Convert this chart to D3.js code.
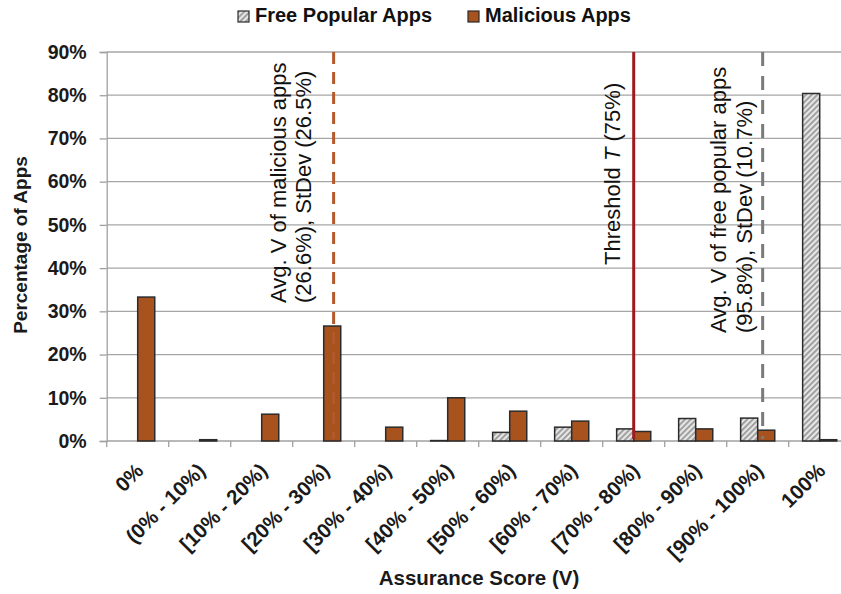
<!DOCTYPE html>
<html>
<head>
<meta charset="utf-8">
<script src="https://cdn.jsdelivr.net/npm/d3@7/dist/d3.min.js"></script>
<style>
  html, body { margin: 0; padding: 0; background: #fff; }
  svg { display: block; font-family: "Liberation Sans", Arial, sans-serif; }
</style>
</head>
<body>
<svg id="chart" width="841" height="594"></svg>
<script>
// ---- data ----
const categories = ["0%", "(0% - 10%)", "[10% - 20%)", "[20% - 30%)", "[30% - 40%)", "[40% - 50%)",
  "[50% - 60%)", "[60% - 70%)", "[70% - 80%)", "[80% - 90%)", "[90% - 100%)", "100%"];
const seriesNames = ["Free Popular Apps", "Malicious Apps"];
const freeValues = [0, 0, 0, 0, 0, 0.1, 2.0, 3.2, 2.8, 5.2, 5.3, 80.4];
const maliciousValues = [33.3, 0.3, 6.2, 26.6, 3.2, 10.0, 6.9, 4.6, 2.2, 2.8, 2.5, 0.3];
const yTicks = [0, 10, 20, 30, 40, 50, 60, 70, 80, 90];
// reference lines: value on the assurance score (V) axis, in %
const refLines = [
  { name: "malAvg", v: 26.6, lines: ["Avg. V of malicious apps", "(26.6%), StDev (26.5%)"] },
  { name: "threshold", v: 75, lines: ["Threshold T (75%)"] },
  { name: "freeAvg", v: 95.8, lines: ["Avg. V of free popular apps", "(95.8%), StDev (10.7%)"] }
];

const svg = d3.select("#chart");
const x0Left = 106.7, step = 62, yTop = 52, yBottom = 441;

const x = d3.scaleBand().domain(categories)
  .range([x0Left, x0Left + step * categories.length])
  .paddingInner(0.45).paddingOuter(0.225);
const xs = d3.scaleBand().domain(seriesNames).range([0, x.bandwidth()]).padding(0);
const y = d3.scaleLinear().domain([0, 90]).range([yBottom, yTop]);
// continuous V axis: value v% -> position (0% category occupies first step)
const vScale = d3.scaleLinear().domain([0, 100]).range([x0Left + step, x0Left + step * 11]);

// pattern
const defs = svg.append("defs");
const pat = defs.append("pattern").attr("id", "hatch").attr("patternUnits", "userSpaceOnUse")
  .attr("width", 4).attr("height", 4).attr("patternTransform", "rotate(45)");
pat.append("rect").attr("width", 4).attr("height", 4).attr("fill", "#e6e6e6");
pat.append("rect").attr("width", 1.8).attr("height", 4).attr("fill", "#9a9a9a");

const colors = { "Free Popular Apps": "url(#hatch)", "Malicious Apps": "#a8521e" };

// gridlines
svg.append("g").selectAll("line").data(yTicks.filter(d => d > 0)).join("line")
  .attr("x1", x0Left).attr("x2", 841)
  .attr("y1", d => y(d)).attr("y2", d => y(d))
  .attr("stroke", "#a6a6a6").attr("stroke-width", 1.3);

// y axis
const yAxis = svg.append("g").attr("transform", `translate(${x0Left},0)`)
  .call(d3.axisLeft(y).tickValues(yTicks).tickFormat(d => d + "%").tickSize(7).tickPadding(13));
yAxis.select(".domain").attr("stroke", "#a0a0a0").attr("stroke-width", 1.3);
yAxis.selectAll(".tick line").attr("stroke", "#a0a0a0").attr("stroke-width", 1.3);
yAxis.selectAll(".tick text").attr("font-size", 19.5).attr("font-weight", "bold")
  .attr("fill", "#1a1a1a").attr("font-family", "Liberation Sans, Arial, sans-serif");

// x axis line & boundary ticks
const boundaries = d3.range(categories.length + 1).map(i => x0Left + i * step);
svg.append("line").attr("x1", x0Left).attr("x2", 841).attr("y1", yBottom).attr("y2", yBottom)
  .attr("stroke", "#a0a0a0").attr("stroke-width", 1.3);
svg.append("g").selectAll("line").data(boundaries).join("line")
  .attr("x1", d => d).attr("x2", d => d).attr("y1", yBottom).attr("y2", yBottom + 6)
  .attr("stroke", "#a0a0a0").attr("stroke-width", 1.3);

// x labels
svg.append("g").selectAll("text").data(categories).join("text")
  .attr("transform", d => `translate(${x(d) + x.bandwidth() / 2 + 7},${yBottom + 31}) rotate(-45)`)
  .attr("text-anchor", "end").attr("font-size", 20.5).attr("font-weight", "bold").attr("fill", "#1a1a1a")
  .text(d => d);

// bars
const rows = [];
categories.forEach((c, i) => {
  rows.push({ c, s: seriesNames[0], v: freeValues[i] });
  rows.push({ c, s: seriesNames[1], v: maliciousValues[i] });
});
svg.append("g").selectAll("rect").data(rows.filter(d => d.v > 0)).join("rect")
  .attr("x", d => x(d.c) + xs(d.s))
  .attr("y", d => y(d.v))
  .attr("width", xs.bandwidth())
  .attr("height", d => y(0) - y(d.v))
  .attr("fill", d => colors[d.s])
  .attr("stroke", "#2b2b2b").attr("stroke-width", 1.5);

// reference lines
const lineStyles = {
  malAvg: { stroke: "#b35a2a", dash: "12,8", width: 3 },
  threshold: { stroke: "#9e1a1e", dash: null, width: 3 },
  freeAvg: { stroke: "#7a7a7a", dash: "14,10", width: 3 }
};
refLines.forEach(r => {
  const st = lineStyles[r.name];
  svg.append("line").attr("x1", vScale(r.v)).attr("x2", vScale(r.v))
    .attr("y1", yTop).attr("y2", yBottom - 2)
    .attr("stroke", st.stroke).attr("stroke-width", st.width)
    .attr("stroke-dasharray", st.dash);
});

// annotations
const annPos = {
  malAvg: { x: 285.5, y: 303, dx: 25.5 },
  threshold: { x: 619.5, y: 265, dx: 25.5 },
  freeAvg: { x: 726, y: 333, dx: 25.5 }
};
refLines.forEach(r => {
  const p = annPos[r.name];
  r.lines.forEach((ln, i) => {
    const t = svg.append("text")
      .attr("transform", `translate(${p.x + i * p.dx},${p.y}) rotate(-90)`)
      .attr("text-anchor", "start").attr("font-size", 22).attr("fill", "#111");
    if (r.name === "threshold") {
      t.append("tspan").text("Threshold ");
      t.append("tspan").attr("font-style", "italic").text("T");
      t.append("tspan").text(" (75%)");
    } else {
      t.text(ln);
    }
  });
});

// axis titles
svg.append("text").attr("x", 479).attr("y", 585).attr("text-anchor", "middle")
  .attr("font-size", 20.5).attr("font-weight", "bold").attr("fill", "#1a1a1a").text("Assurance Score (V)");
svg.append("text").attr("transform", "translate(27,245) rotate(-90)").attr("text-anchor", "middle")
  .attr("font-size", 19).attr("font-weight", "bold").attr("fill", "#1a1a1a").text("Percentage of Apps");

// legend
const legendX = [238, 468];
seriesNames.forEach((s, i) => {
  const g = svg.append("g").attr("transform", `translate(${legendX[i]},11)`);
  g.append("rect").attr("width", 11).attr("height", 11).attr("fill", colors[s])
    .attr("stroke", "#2b2b2b").attr("stroke-width", 1.2);
  g.append("text").attr("x", 17).attr("y", 10.5).attr("font-size", 20).attr("font-weight", "bold")
    .attr("fill", "#111").text(s);
});
</script>
</body>
</html>
